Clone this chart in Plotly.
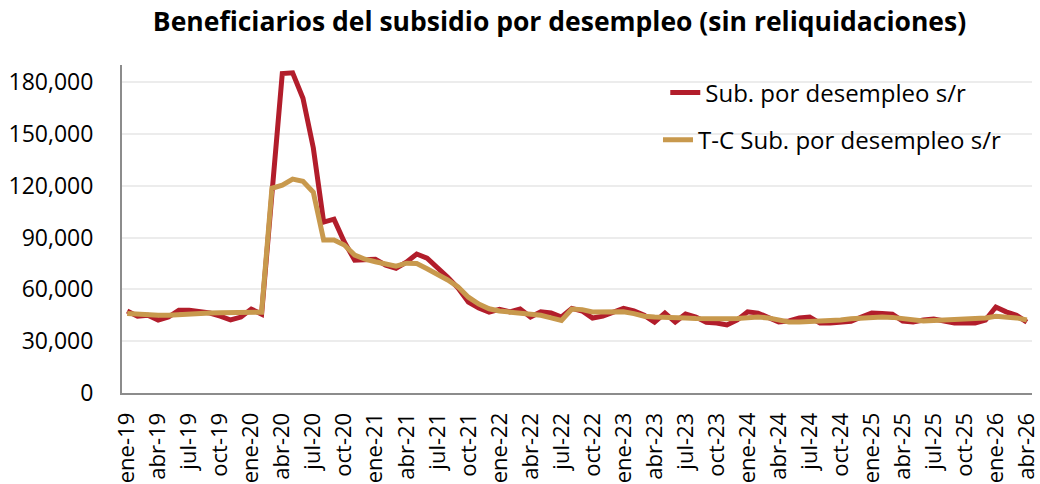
import plotly.graph_objects as go

years = ["19", "20", "21", "22", "23", "24", "25", "26"]
month_abbr = ["ene", "feb", "mar", "abr", "may", "jun", "jul", "ago", "sep", "oct", "nov", "dic"]
months = [f"{m}-{y}" for y in years for m in month_abbr][:88]

sub_sr = [
    47500, 44500, 45000, 42300, 44000, 48000, 48000, 47500, 46300, 44500, 42300, 44000,  # 2019
    48600, 45700, 118000, 185000, 185500, 170700, 142000, 99000, 100700, 87400, 77000, 77000,  # 2020
    77500, 74000, 72300, 75800, 80500, 78100, 73000, 67100, 60800, 52700, 49200, 46900,  # 2021
    48500, 47000, 48600, 44000, 47000, 46300, 44000, 49000, 47500, 43400, 44500, 46900,  # 2022
    49000, 47500, 45000, 41100, 46300, 41100, 45700, 44000, 41000, 40500, 39400, 42300,  # 2023
    47000, 46300, 44000, 41100, 41700, 43400, 44000, 40500, 40500, 41100, 41500, 44000,  # 2024
    46300, 46000, 45700, 41700, 41100, 42300, 42800, 41700, 40500, 40500, 40500, 42300,  # 2025
    49800, 47000, 45000, 41100,  # 2026
]

tc_sub_sr = [
    46000, 45500, 45200, 45000, 45000, 45500, 46000, 46300, 46300, 46500, 46500, 46500,  # 2019
    46800, 46800, 118600, 120400, 123900, 122700, 116300, 88600, 88600, 85700, 79900, 77500,  # 2020
    76000, 74500, 73500, 75200, 75000, 72000, 69000, 65500, 61500, 55500, 51500, 48800,  # 2021
    47500, 46900, 46500, 45800, 45000, 43500, 42000, 48600, 48300, 46900, 46900, 46900,  # 2022
    47000, 46000, 44500, 44000, 44000, 44000, 43500, 43200, 43000, 43000, 43000, 43200,  # 2023
    43800, 44000, 43500, 42000, 41200, 41200, 41500, 41300, 41500, 42300, 43000, 43500,  # 2024
    43800, 44000, 43800, 43000, 42000, 41700, 42000, 42300, 42500, 42800, 43000, 43400,  # 2025
    44500, 44300, 43500, 42300,  # 2026
]

y_ticks = [0, 30000, 60000, 90000, 120000, 150000, 180000]

x_idx = list(range(len(months)))
tick_idx = x_idx[::3]
tick_text = months[::3]

RED = "#B21D2B"
TAN = "#C8994D"

fig = go.Figure()
fig.add_trace(go.Scatter(
    x=x_idx, y=sub_sr, mode="lines", name="Sub. por desempleo s/r",
    line=dict(color=RED, width=5), legend="legend",
))
fig.add_trace(go.Scatter(
    x=x_idx, y=tc_sub_sr, mode="lines", name="T-C Sub. por desempleo s/r",
    line=dict(color=TAN, width=5), legend="legend2",
))

FONT = "'Open Sans', 'Noto Sans', 'DejaVu Sans', sans-serif"

fig.update_layout(
    width=1040, height=484,
    margin=dict(l=122, r=8, t=65, b=91),
    paper_bgcolor="white", plot_bgcolor="white",
    font=dict(family=FONT, color="black"),
    title=dict(
        text="<b>Beneficiarios del subsidio por desempleo (sin reliquidaciones)</b>",
        x=0.538, xanchor="center", y=0.955, yanchor="middle",
        font=dict(size=26.5, family=FONT, color="black"),
    ),
    legend=dict(
        x=0.597, y=0.915, xanchor="left", yanchor="middle",
        bgcolor="rgba(0,0,0,0)", font=dict(size=24, family=FONT),
    ),
    legend2=dict(
        x=0.589, y=0.771, xanchor="left", yanchor="middle",
        bgcolor="rgba(0,0,0,0)", font=dict(size=24, family=FONT),
    ),
    showlegend=True,
)

fig.update_xaxes(
    range=[-0.5, len(months) - 0.5],
    tickmode="array", tickvals=tick_idx, ticktext=tick_text,
    tickangle=-90, tickfont=dict(size=22, family=FONT, color="black"),
    showgrid=False, showline=True, linecolor="#8c8c8c", linewidth=2,
    ticks="", zeroline=False, automargin=False, ticklabelstandoff=9,
)
fig.update_yaxes(
    range=[0, 190000],
    tickmode="array", tickvals=y_ticks, tickformat=",",
    tickfont=dict(size=23, family=FONT, color="black"),
    showgrid=True, gridcolor="#ececec", gridwidth=2,
    showline=True, linecolor="#8c8c8c", linewidth=2,
    ticks="", zeroline=False, ticklabelstandoff=22, automargin=False,
)

fig.write_html(
    "out.html",
    config={"displayModeBar": False},
    post_script="document.body.style.margin='0';document.body.style.padding='0';",
)
